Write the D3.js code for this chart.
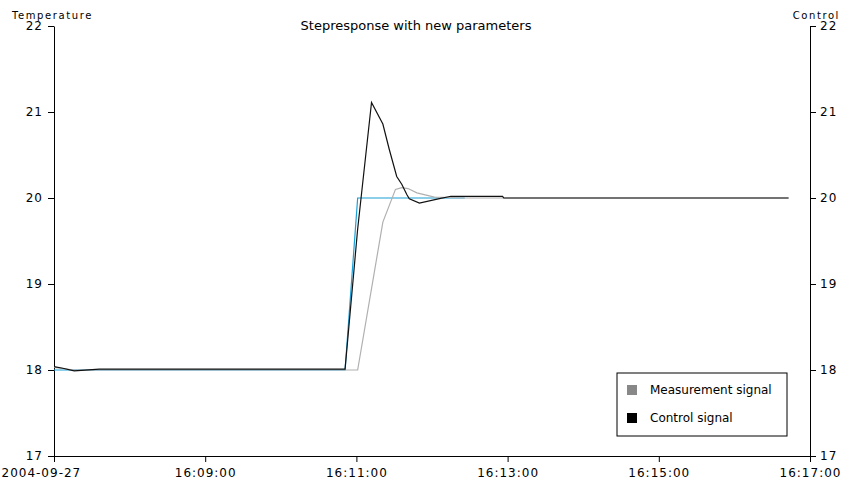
<!DOCTYPE html>
<html>
<head>
<meta charset="utf-8">
<script src="https://cdn.jsdelivr.net/npm/d3@7"></script>
<style>
    body { margin: 0; background: #fff; }
    .tick text { font-family: 'DejaVu Sans', sans-serif; font-size: 12px; letter-spacing: 1px; fill: #000; }
    .axis path, .axis line { stroke: #000; }
</style>
</head>
<body>
<div id="chart"></div>
<script>
// Data
const day = '2004-09-27';
const xTicks = ['16:07:00', '16:09:00', '16:11:00', '16:13:00', '16:15:00', '16:17:00'];
const yTicks = [17, 18, 19, 20, 21, 22];

const setpointTimes = ['16:07:00', '16:10:51', '16:11:01', '16:12:26'];
const setpointValues = [18, 18, 20, 20];

const measurementTimes = ['16:07:00', '16:07:16', '16:11:01', '16:11:21', '16:11:31', '16:11:36',
    '16:11:41', '16:11:48', '16:12:02', '16:12:26', '16:16:43'];
const measurementValues = [18.03, 18.0, 18.0, 19.72, 20.10, 20.12, 20.11, 20.06, 20.01, 20.0, 20.0];

const controlTimes = ['16:07:00', '16:07:07', '16:07:16', '16:07:36', '16:10:51', '16:11:01', '16:11:12',
    '16:11:21', '16:11:26', '16:11:32', '16:11:36', '16:11:40', '16:11:42', '16:11:50', '16:12:05',
    '16:12:15', '16:12:56', '16:12:57', '16:16:43'];
const controlValues = [18.04, 18.02, 17.99, 18.01, 18.01, 19.64, 21.11, 20.86, 20.57, 20.25, 20.16,
    20.04, 19.99, 19.94, 19.99, 20.02, 20.02, 20.0, 20.0];

const legendLabels = ['Measurement signal', 'Control signal'];
const legendColors = ['#888888', '#000000'];

const parse = d3.timeParse('%Y-%m-%d %H:%M:%S');
const toPoints = (times, values) => times.map((t, i) => ({ t: parse(day + ' ' + t), v: values[i] }));

const setpoint = toPoints(setpointTimes, setpointValues);
const measurement = toPoints(measurementTimes, measurementValues);
const control = toPoints(controlTimes, controlValues);

const width = 846;
const height = 481;
const margin = { top: 26, right: 36, bottom: 25, left: 54 };

const svg = d3.select('#chart')
    .append('svg')
    .attr('width', width)
    .attr('height', height);

const tickDates = xTicks.map(t => parse(day + ' ' + t));

const x = d3.scaleTime()
    .domain([tickDates[0], tickDates[tickDates.length - 1]])
    .range([margin.left, width - margin.right]);

const y = d3.scaleLinear()
    .domain([17, 22])
    .range([height - margin.bottom, margin.top]);

const yRight = d3.scaleLinear()
    .domain([17, 22])
    .range([height - margin.bottom, margin.top]);

// Axes
const fmt = d3.timeFormat('%H:%M:%S');
const xAxis = svg.append('g')
    .attr('class', 'axis')
    .attr('transform', `translate(0,${height - margin.bottom})`)
    .call(d3.axisBottom(x)
        .tickValues(tickDates)
        .tickSizeOuter(0)
        .tickPadding(6)
        .tickFormat((d, i) => i === 0 ? day : fmt(d)));

xAxis.selectAll('.tick').filter((d, i) => i === 0).select('text')
    .attr('text-anchor', 'start')
    .attr('x', -x(tickDates[0]) + 1);

svg.append('g')
    .attr('class', 'axis')
    .attr('transform', `translate(${margin.left},0)`)
    .call(d3.axisLeft(y).tickValues(yTicks).tickFormat(d3.format('d')).tickSizeOuter(0).tickPadding(5));

svg.append('g')
    .attr('class', 'axis')
    .attr('transform', `translate(${width - margin.right},0)`)
    .call(d3.axisRight(yRight).tickValues(yTicks).tickFormat(d3.format('d')).tickSizeOuter(0).tickPadding(4));

// Axis titles and chart title
svg.append('text')
    .attr('x', 12)
    .attr('y', 19)
    .style('font-family', 'DejaVu Sans, sans-serif')
    .style('font-size', '10px')
    .style('letter-spacing', '1.6px')
    .text('Temperature');

svg.append('text')
    .attr('x', 840)
    .attr('y', 19)
    .attr('text-anchor', 'end')
    .style('font-family', 'DejaVu Sans, sans-serif')
    .style('font-size', '10px')
    .style('letter-spacing', '1.6px')
    .text('Control');

svg.append('text')
    .attr('x', 416)
    .attr('y', 30)
    .attr('text-anchor', 'middle')
    .style('font-family', 'DejaVu Sans, sans-serif')
    .style('font-size', '13px')
    .text('Stepresponse with new parameters');

// Lines
const line = d3.line()
    .x(d => x(d.t))
    .y(d => y(d.v));

const lineRight = d3.line()
    .x(d => x(d.t))
    .y(d => yRight(d.v));

svg.append('path')
    .datum(setpoint)
    .attr('fill', 'none')
    .attr('stroke', '#1a9fd8')
    .attr('stroke-width', 1.2)
    .attr('d', line);

svg.append('path')
    .datum(measurement)
    .attr('fill', 'none')
    .attr('stroke', '#b0b0b0')
    .attr('stroke-width', 1.2)
    .attr('d', line);

svg.append('path')
    .datum(control)
    .attr('fill', 'none')
    .attr('stroke', '#111')
    .attr('stroke-width', 1.2)
    .attr('d', lineRight);

// Legend
const legend = svg.append('g')
    .attr('transform', 'translate(617,373)');

legend.append('rect')
    .attr('width', 170)
    .attr('height', 63)
    .attr('fill', '#fff')
    .attr('stroke', '#000');

const items = legend.selectAll('.item')
    .data(legendLabels)
    .enter()
    .append('g')
    .attr('class', 'item')
    .attr('transform', (d, i) => `translate(10,${12 + i * 28})`);

items.append('rect')
    .attr('width', 10)
    .attr('height', 10)
    .attr('fill', (d, i) => legendColors[i]);

items.append('text')
    .attr('x', 23)
    .attr('y', 9)
    .style('font-family', 'DejaVu Sans, sans-serif')
    .style('font-size', '12px')
    .text(d => d);
</script>
</body>
</html>
